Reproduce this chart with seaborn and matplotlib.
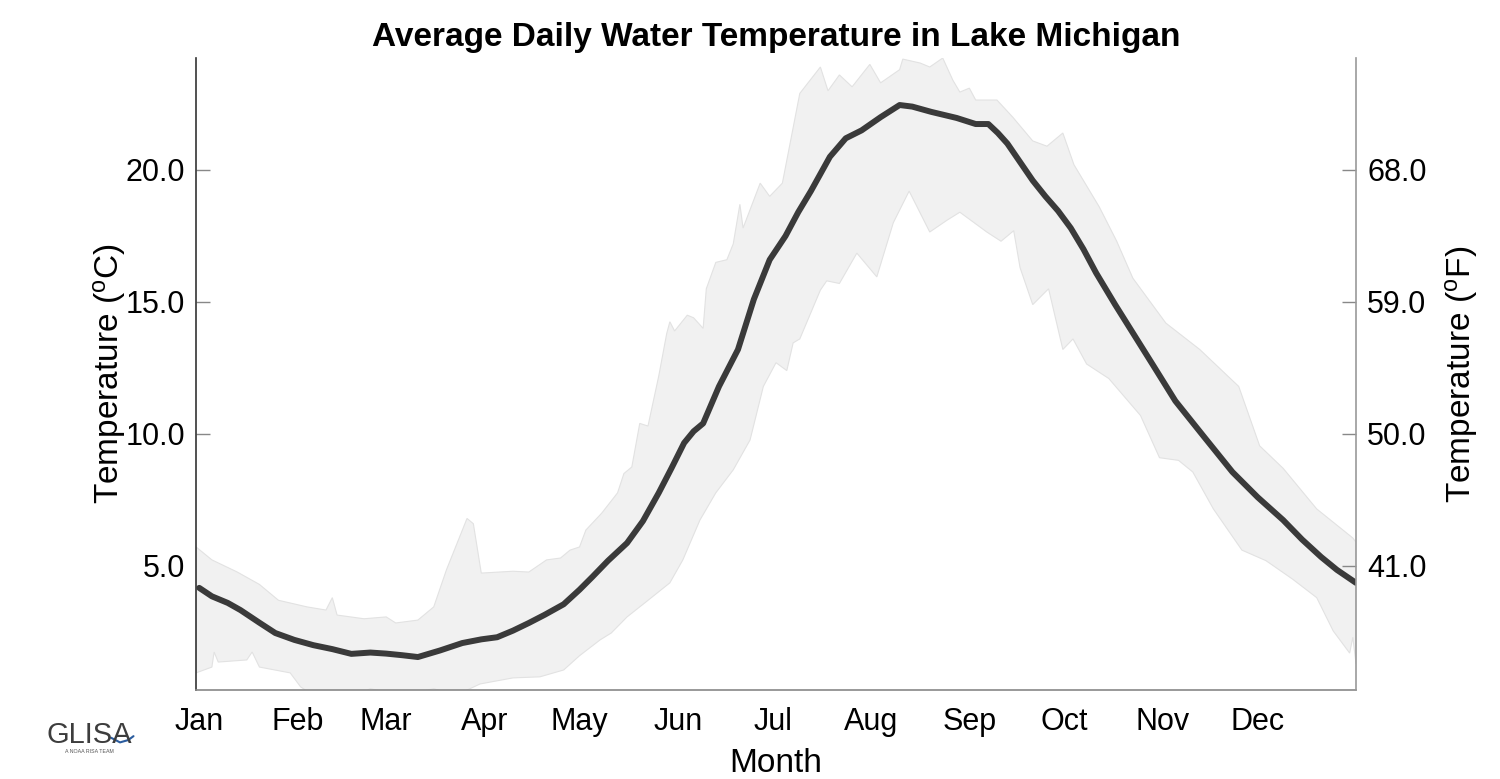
import numpy as np
import pandas as pd
import seaborn as sns
import matplotlib.pyplot as plt
from matplotlib.lines import Line2D

# dias del año y temperatura media (C)
mean_day = [1, 5, 10, 14, 20, 25, 31, 37, 43, 49, 55, 60, 65, 70, 77, 84, 90, 95, 100,
            105, 110, 116, 121, 125, 130, 136, 141, 146, 150, 154, 157, 160, 165, 171,
            176, 181, 186, 190, 194, 200, 205, 210, 216, 222, 226, 232, 240, 246, 250,
            253, 256, 260, 264, 268, 272, 276, 280, 284, 290, 296, 302, 309, 318, 327,
            335, 343, 349, 355, 360, 366]
mean_temp = [4.17, 3.85, 3.6, 3.33, 2.85, 2.46, 2.2, 2.0, 1.85, 1.67, 1.72, 1.68, 1.62,
             1.55, 1.8, 2.08, 2.22, 2.3, 2.55, 2.84, 3.15, 3.55, 4.1, 4.58, 5.2, 5.87,
             6.7, 7.77, 8.7, 9.66, 10.1, 10.4, 11.8, 13.2, 15.1, 16.6, 17.5, 18.4, 19.2,
             20.5, 21.2, 21.5, 22.0, 22.46, 22.4, 22.2, 21.97, 21.74, 21.74, 21.4, 21.0,
             20.3, 19.6, 19.0, 18.45, 17.8, 17.0, 16.1, 14.9, 13.75, 12.6, 11.25, 9.9,
             8.56, 7.6, 6.74, 6.0, 5.34, 4.85, 4.36]

# limite superior del rango
upper_day = [0, 5, 13, 20, 26, 35, 41, 43, 44.5, 53, 60, 63, 70, 75, 79, 85.5, 87.5, 90,
             100, 105, 110.6, 115, 118, 121, 123, 128, 133, 135, 137.5, 140, 142.6, 146,
             148.5, 149.5, 151, 155, 157, 160, 161, 164, 167.5, 169.5, 171.6, 172.6, 178,
             181, 185, 190.5, 197, 199.4, 203, 207, 212.6, 216, 222, 223, 228.5, 231.5,
             235.6, 238.8, 241, 244, 246, 252.7, 257.7, 264, 268.5, 272.5, 273.5, 277,
             285, 290.5, 295.6, 306, 316.7, 329, 335.6, 343, 353.6, 365, 366]
upper_temp = [5.72, 5.23, 4.77, 4.3, 3.7, 3.45, 3.33, 3.8, 3.14, 3.0, 3.07, 2.84, 2.95,
              3.45, 4.85, 6.8, 6.6, 4.73, 4.8, 4.77, 5.23, 5.3, 5.6, 5.72, 6.36, 7.0,
              7.77, 8.5, 8.75, 10.4, 10.3, 12.2, 13.8, 14.25, 13.9, 14.5, 14.4, 14.0,
              15.5, 16.5, 16.6, 17.2, 18.7, 17.8, 19.5, 19.0, 19.5, 22.9, 23.9, 23.0,
              23.6, 23.15, 24.0, 23.3, 23.8, 24.2, 24.05, 23.9, 24.24, 23.4, 22.95, 23.1,
              22.65, 22.65, 22.0, 21.1, 20.9, 21.3, 21.4, 20.2, 18.6, 17.3, 15.9, 14.2,
              13.2, 11.8, 9.55, 8.7, 7.16, 6.06, 5.9]

# limite inferior del rango
lower_day = [0, 5, 5.7, 7, 16, 17.7, 20, 29.7, 33, 37, 45, 55, 65, 75, 82, 89.6, 100,
             108.5, 116, 121, 127.5, 131, 136, 142, 149.5, 153.6, 159, 164, 169.5, 174.8,
             179, 183, 186.4, 188.4, 190.5, 197, 199, 203, 208.5, 214.8, 220, 225, 231.5,
             237, 241, 249.5, 254, 258, 260, 264, 269, 273.5, 276.7, 281, 288, 298, 304,
             310, 314.5, 321, 330, 337.6, 346, 353.6, 358.8, 364, 365, 366]
lower_temp = [0.95, 1.17, 1.74, 1.36, 1.44, 1.74, 1.17, 0.95, 0.42, 0.1, -0.2, 0.35, 0.1,
              0.35, 0.1, 0.53, 0.76, 0.8, 1.06, 1.6, 2.2, 2.46, 3.07, 3.64, 4.36, 5.23,
              6.74, 7.77, 8.64, 9.77, 11.8, 12.7, 12.4, 13.45, 13.6, 15.45, 15.8, 15.7,
              16.85, 15.95, 18.0, 19.2, 17.65, 18.1, 18.4, 17.65, 17.3, 17.7, 16.3, 14.9,
              15.5, 13.2, 13.6, 12.65, 12.1, 10.7, 9.1, 9.0, 8.56, 7.16, 5.6, 5.2, 4.5,
              3.8, 2.54, 1.7, 2.3, 1.3]

month_start = [1, 32, 60, 91, 121, 152, 182, 213, 244, 274, 305, 335]
month_labels = ["Jan", "Feb", "Mar", "Apr", "May", "Jun", "Jul", "Aug", "Sep", "Oct",
                "Nov", "Dec"]
c_ticks = [5, 10, 15, 20]
f_ticks = [41, 50, 59, 68]

sns.set_style("white")
plt.rcParams['font.family'] = ['Liberation Sans', 'DejaVu Sans']
plt.rcParams['mathtext.default'] = 'regular'
plt.rcParams['text.color'] = 'black'
plt.rcParams['axes.labelcolor'] = 'black'

fig = plt.figure(figsize=(15, 7.79), dpi=100)
ax = fig.add_axes([0.1307, 0.1142, 0.7733, 0.8113])

# banda de rango
band_x = upper_day + lower_day[::-1]
band_y = upper_temp + lower_temp[::-1]
ax.fill(band_x, band_y, facecolor="#f1f1f1", edgecolor="#e2e2e2", linewidth=0.8, zorder=1)

df = pd.DataFrame({"day": mean_day, "temp": mean_temp})
sns.lineplot(data=df, x="day", y="temp", ax=ax, color="#3a3a3a", linewidth=4.3,
             zorder=3, solid_joinstyle="round", solid_capstyle="round")

ax.set_xlim(0, 366)
ylo, yhi = 0.3, 24.24
ax.set_ylim(ylo, yhi)
ax.set_xticks(month_start)
ax.set_xticklabels(month_labels)
ax.set_yticks(c_ticks)
ax.set_yticklabels([f"{v:.1f}" for v in c_ticks])
ax.set_xlabel("Month", fontsize=24, labelpad=8)
ax.set_ylabel("Temperature ($^{o}$C)", fontsize=24, labelpad=-2)
ax.set_title("Average Daily Water Temperature in Lake Michigan", fontsize=24,
             fontweight="bold", pad=9, color="black")
ax.tick_params(axis="both", direction="in", length=10, width=1, color="#888888",
               labelsize=22, pad=8, labelcolor="black")
ax.tick_params(axis="x", pad=12)

for s in ["top", "right"]:
    ax.spines[s].set_visible(False)
ax.spines["left"].set_color("#333333")
ax.spines["left"].set_linewidth(1.2)
ax.spines["bottom"].set_color("#888888")
ax.spines["bottom"].set_linewidth(1.2)

# eje derecho en Fahrenheit
ax2 = ax.twinx()
ax2.set_ylim(ylo * 9 / 5 + 32, yhi * 9 / 5 + 32)
ax2.set_yticks(f_ticks)
ax2.set_yticklabels([f"{v:.1f}" for v in f_ticks])
ax2.set_ylabel("Temperature ($^{o}$F)", fontsize=24, labelpad=12)
ax2.tick_params(axis="y", direction="in", length=10, width=1, color="#888888",
                labelsize=22, pad=8, labelcolor="black")
for s in ["top", "left", "bottom"]:
    ax2.spines[s].set_visible(False)
ax2.spines["right"].set_color("#999999")
ax2.spines["right"].set_linewidth(1.2)

# logo GLISA
fig.text(0.0595, 0.046, "GLISA", fontsize=21, color="#3d3d3d", ha="center",
         va="baseline")
fig.text(0.0595, 0.033, "A NOAA RISA TEAM", fontsize=3.8, color="#555555", ha="center",
         va="baseline")
fig.add_artist(Line2D([0.074, 0.080, 0.0855, 0.089], [0.053, 0.047, 0.050, 0.055],
                      transform=fig.transFigure, color="#2b5c9e", linewidth=1.5))

plt.savefig("out.png", dpi=100)
